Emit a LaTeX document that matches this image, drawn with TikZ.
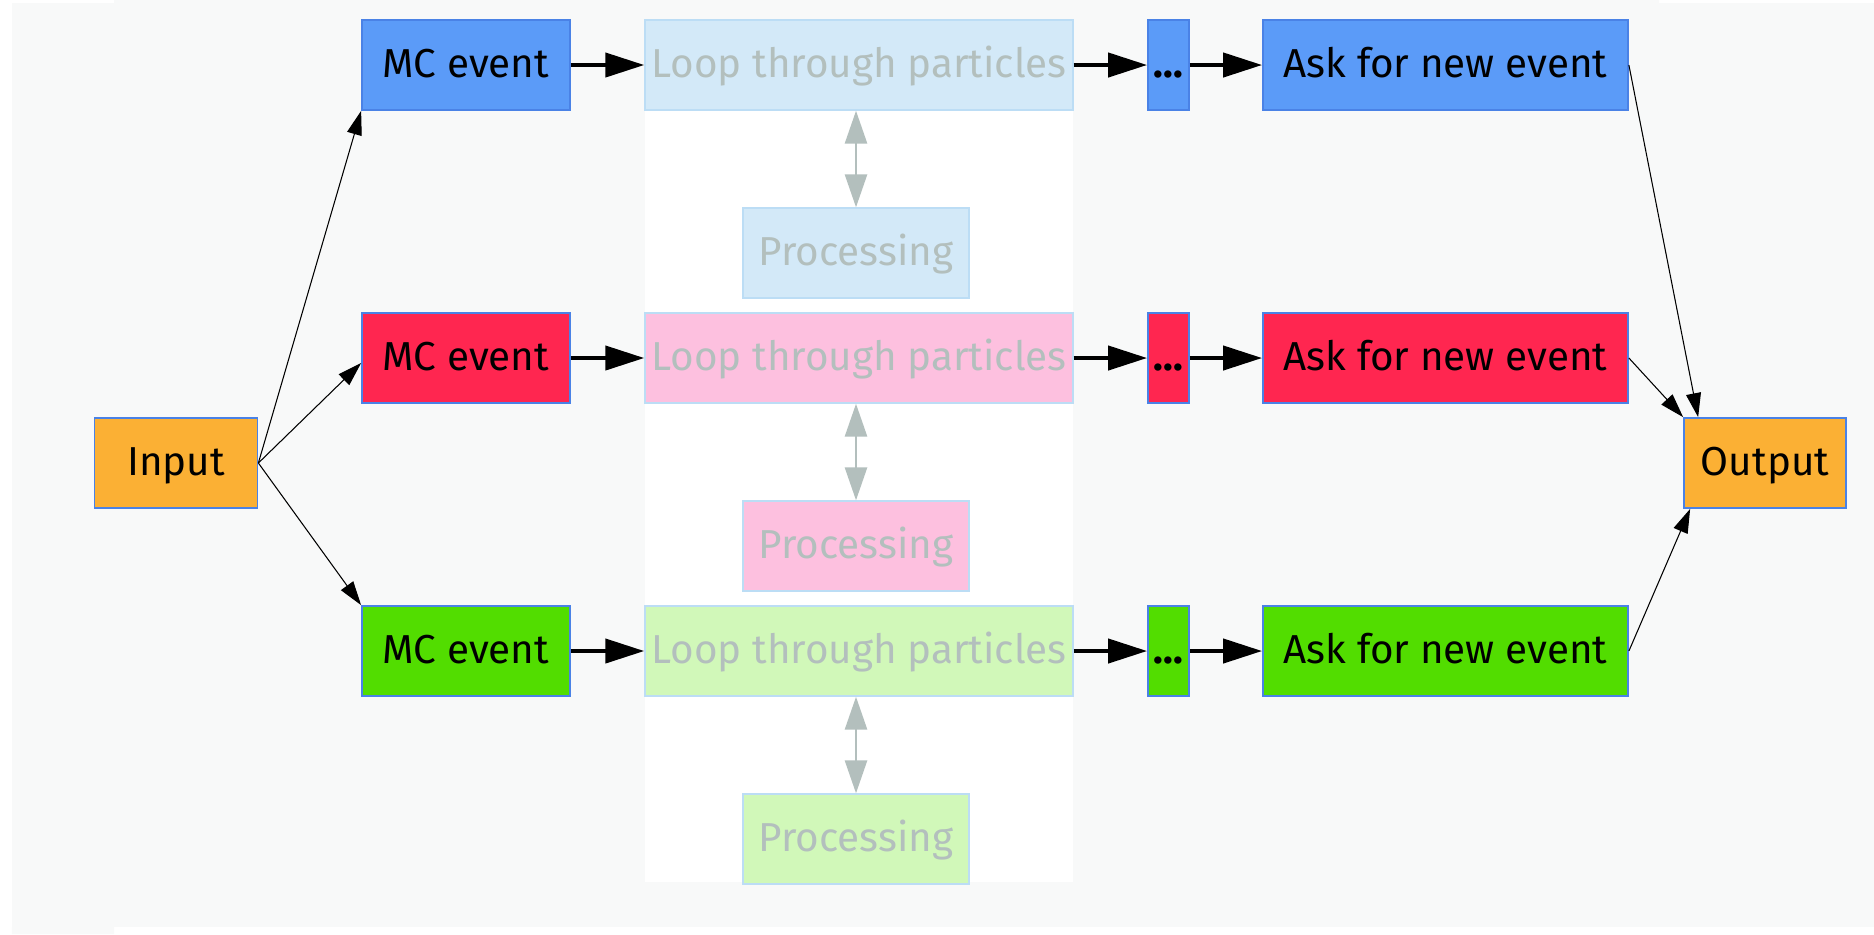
\documentclass[tikz,border=0pt]{standalone}
\usepackage{fontspec}
\setmainfont{Fira Sans}
\usetikzlibrary{arrows.meta}
\definecolor{bggray}{HTML}{F8F9F9}
\definecolor{mcblue}{HTML}{5B9BF8}
\definecolor{mcred}{HTML}{FF2650}
\definecolor{mcgreen}{HTML}{52DD00}
\definecolor{inorange}{HTML}{FBB034}
\definecolor{paleblue}{HTML}{D3E9F8}
\definecolor{palepink}{HTML}{FDC0DF}
\definecolor{palegreen}{HTML}{D1F8B9}
\definecolor{edgeblue}{HTML}{4A82E6}
\definecolor{paleedge}{HTML}{BCDDF5}
\definecolor{fainttext}{HTML}{B3BFBD}
\begin{document}
\begin{tikzpicture}[
    box/.style={draw=edgeblue,line width=0.5pt,minimum height=0.9cm,inner sep=0pt,text height=1.9ex,text depth=0.5ex,font=\fontsize{11.5}{14}\selectfont},
    faint/.style={draw=paleedge,line width=0.4pt,minimum height=0.9cm,inner sep=0pt,text height=1.9ex,text depth=0.5ex,text=fainttext,font=\fontsize{11.5}{14}\selectfont},
    flow/.style={-{Triangle[length=3.9mm,width=2.4mm]},line width=1.2pt},
    feed/.style={-{Triangle[length=2.4mm,width=1.5mm]},line width=0.3pt},
    link/.style={{Triangle[length=3.3mm,width=2.2mm]}-{Triangle[length=3.3mm,width=2.2mm]},line width=0.8pt,draw=fainttext}]
    \def\rowa{-0.65} \def\rowb{-3.58} \def\rowc{-6.51} \def\drop{1.88}
    \useasboundingbox (0,0) rectangle (18.74,-9.34);
    \fill[bggray] (0.12,-0.03) rectangle (18.74,-9.27);
    \fill[bggray] (1.14,0) rectangle (16.59,-0.03) (0.12,-9.27) rectangle (1.14,-9.34);
    \fill[white] (6.45,-0.20) rectangle (10.73,-8.82);
    % in and out
    \node[box,fill=inorange,minimum width=1.63cm] (in) at (1.76,-4.63) {Input};
    \node[box,fill=inorange,minimum width=1.62cm] (out) at (17.65,-4.63) {Output};
    % blue row
    \node[box,fill=mcblue,minimum width=2.08cm] (mcblue) at (4.66,\rowa) {MC event};
    \node[faint,fill=paleblue,minimum width=4.28cm] (loopblue) at (8.59,\rowa) {Loop through particles};
    \node[faint,fill=paleblue,minimum width=2.26cm] (procblue) at (8.56,\rowa-\drop) {Processing};
    \node[box,fill=mcblue,minimum width=0.41cm] (dotsblue) at (11.685,\rowa) {\textbf{...}};
    \node[box,fill=mcblue,minimum width=3.65cm] (askblue) at (14.455,\rowa) {Ask for new event};
    % red row
    \node[box,fill=mcred,minimum width=2.08cm] (mcred) at (4.66,\rowb) {MC event};
    \node[faint,fill=palepink,minimum width=4.28cm] (loopred) at (8.59,\rowb) {Loop through particles};
    \node[faint,fill=palepink,minimum width=2.26cm] (procred) at (8.56,\rowb-\drop) {Processing};
    \node[box,fill=mcred,minimum width=0.41cm] (dotsred) at (11.685,\rowb) {\textbf{...}};
    \node[box,fill=mcred,minimum width=3.65cm] (askred) at (14.455,\rowb) {Ask for new event};
    % green row
    \node[box,fill=mcgreen,minimum width=2.08cm] (mcgreen) at (4.66,\rowc) {MC event};
    \node[faint,fill=palegreen,minimum width=4.28cm] (loopgreen) at (8.59,\rowc) {Loop through particles};
    \node[faint,fill=palegreen,minimum width=2.26cm] (procgreen) at (8.56,\rowc-\drop) {Processing};
    \node[box,fill=mcgreen,minimum width=0.41cm] (dotsgreen) at (11.685,\rowc) {\textbf{...}};
    \node[box,fill=mcgreen,minimum width=3.65cm] (askgreen) at (14.455,\rowc) {Ask for new event};
    % edges
    \draw[feed] (in.east) -- (mcblue.south west);
    \draw[feed] (in.east) -- ([yshift=-0.5mm]mcred.west);
    \draw[feed] (in.east) -- (mcgreen.north west);
    \draw[flow] (mcblue) -- (loopblue); \draw[flow] (loopblue) -- (dotsblue); \draw[flow] (dotsblue) -- (askblue);
    \draw[flow] (mcred) -- (loopred); \draw[flow] (loopred) -- (dotsred); \draw[flow] (dotsred) -- (askred);
    \draw[flow] (mcgreen) -- (loopgreen); \draw[flow] (loopgreen) -- (dotsgreen); \draw[flow] (dotsgreen) -- (askgreen);
    \draw[link] (procblue.north |- loopblue.south) -- (procblue.north);
    \draw[link] (procred.north |- loopred.south) -- (procred.north);
    \draw[link] (procgreen.north |- loopgreen.south) -- (procgreen.north);
    \draw[feed] (askblue.east) -- ([xshift=1.5mm]out.north west);
    \draw[feed] (askred.east) -- (out.north west);
    \draw[feed] (askgreen.east) -- ([xshift=0.7mm]out.south west);
    %\draw[help lines] (0,0) grid (18,-9);
\end{tikzpicture}
\end{document}
